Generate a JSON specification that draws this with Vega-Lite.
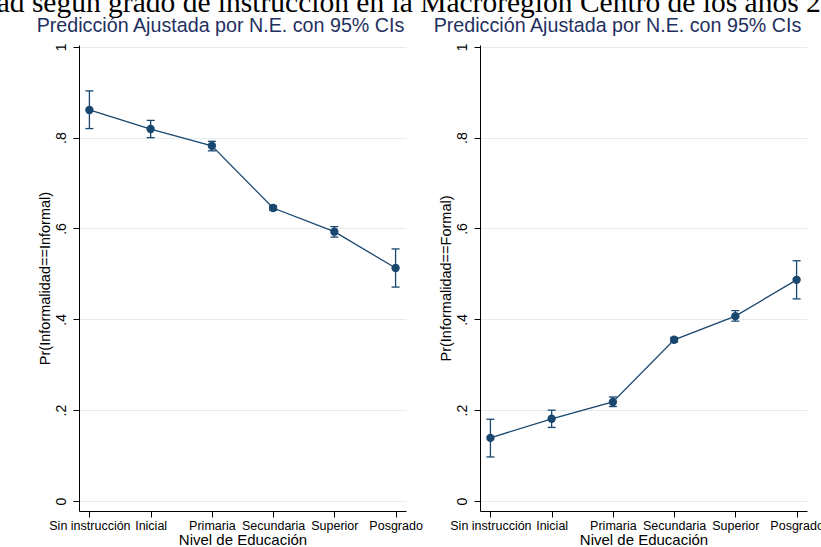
{
  "$schema": "https://vega.github.io/schema/vega-lite/v6.json",
  "background": "white",
  "padding": {"left": -4, "top": -13, "right": 0, "bottom": 0},
  "title": {
    "text": "ad según grado de instrucción en la Macroregión Centro de los años 2",
    "font": "Liberation Serif",
    "fontSize": 29.5,
    "fontWeight": "normal",
    "color": "black",
    "anchor": "middle",
    "dx": -21,
    "offset": -2
  },
  "datasets": {
    "informal": [
      {"nivel": "Sin instrucción", "p": 0.861, "lo": 0.820, "hi": 0.903},
      {"nivel": "Inicial", "p": 0.819, "lo": 0.800, "hi": 0.838},
      {"nivel": "Primaria", "p": 0.782, "lo": 0.771, "hi": 0.792},
      {"nivel": "Secundaria", "p": 0.645, "lo": 0.640, "hi": 0.650},
      {"nivel": "Superior", "p": 0.593, "lo": 0.581, "hi": 0.604},
      {"nivel": "Posgrado", "p": 0.513, "lo": 0.471, "hi": 0.555}
    ],
    "formal": [
      {"nivel": "Sin instrucción", "p": 0.139, "lo": 0.097, "hi": 0.180},
      {"nivel": "Inicial", "p": 0.181, "lo": 0.162, "hi": 0.200},
      {"nivel": "Primaria", "p": 0.218, "lo": 0.208, "hi": 0.229},
      {"nivel": "Secundaria", "p": 0.355, "lo": 0.350, "hi": 0.360},
      {"nivel": "Superior", "p": 0.407, "lo": 0.396, "hi": 0.419},
      {"nivel": "Posgrado", "p": 0.487, "lo": 0.445, "hi": 0.529}
    ]
  },
  "config": {
    "view": {"stroke": null},
    "font": "Liberation Sans",
    "title": {"font": "Liberation Sans", "fontSize": 19.7, "fontWeight": "normal", "color": "#1f3061", "offset": 7},
    "axis": {
      "domainColor": "black",
      "domainWidth": 1,
      "tickColor": "black",
      "tickWidth": 1,
      "tickSize": 6,
      "labelColor": "black",
      "labelFont": "Liberation Sans",
      "titleFont": "Liberation Sans",
      "titleColor": "black",
      "titleFontWeight": "normal"
    },
    "axisX": {"grid": false, "labelAngle": 0, "labelFontSize": 12.5, "labelPadding": 2, "titleFontSize": 15, "titlePadding": 1},
    "axisY": {"grid": true, "gridColor": "#e3ecef", "gridWidth": 1, "labelFontSize": 14, "labelAngle": -90, "labelPadding": 5, "titleFontSize": 14.5, "titlePadding": 2}
  },
  "bounds": "flush",
  "spacing": 74,
  "hconcat": [
    {
      "width": 327,
      "height": 466,
      "title": {"text": "Predicción Ajustada por N.E. con 95% CIs", "dx": -22},
      "data": {"name": "informal"},
      "encoding": {
        "x": {
          "field": "nivel", "type": "ordinal",
          "scale": {"type": "point", "padding": 0.17, "domain": ["Sin instrucción", "Inicial", "Primaria", "Secundaria", "Superior", "Posgrado"]},
          "axis": {"title": "Nivel de Educación"}
        }
      },
      "layer": [
        {
          "mark": {"type": "line", "color": "#1a476f", "strokeWidth": 1.3},
          "encoding": {
            "y": {
              "field": "p", "type": "quantitative",
              "scale": {"domain": [-0.022, 1.004], "nice": false, "zero": false},
              "axis": {"title": "Pr(Informalidad==Informal)", "values": [0, 0.2, 0.4, 0.6, 0.8, 1], "labelExpr": "datum.value == 0 ? '0' : datum.value == 1 ? '1' : replace(format(datum.value, '.1f'), '0.', '.')"}
            }
          }
        },
        {
          "mark": {"type": "rule", "color": "#1a476f", "strokeWidth": 1.3},
          "encoding": {"y": {"field": "lo", "type": "quantitative"}, "y2": {"field": "hi"}}
        },
        {
          "mark": {"type": "tick", "orient": "horizontal", "color": "#1a476f", "size": 8, "thickness": 1.3, "opacity": 1},
          "encoding": {"y": {"field": "lo", "type": "quantitative"}}
        },
        {
          "mark": {"type": "tick", "orient": "horizontal", "color": "#1a476f", "size": 8, "thickness": 1.3, "opacity": 1},
          "encoding": {"y": {"field": "hi", "type": "quantitative"}}
        },
        {
          "mark": {"type": "point", "filled": true, "size": 70, "opacity": 1, "color": "#1a476f"},
          "encoding": {"y": {"field": "p", "type": "quantitative"}}
        }
      ]
    },
    {
      "width": 327,
      "height": 466,
      "title": {"text": "Predicción Ajustada por N.E. con 95% CIs", "dx": -26},
      "data": {"name": "formal"},
      "encoding": {
        "x": {
          "field": "nivel", "type": "ordinal",
          "scale": {"type": "point", "padding": 0.17, "domain": ["Sin instrucción", "Inicial", "Primaria", "Secundaria", "Superior", "Posgrado"]},
          "axis": {"title": "Nivel de Educación"}
        }
      },
      "layer": [
        {
          "mark": {"type": "line", "color": "#1a476f", "strokeWidth": 1.3},
          "encoding": {
            "y": {
              "field": "p", "type": "quantitative",
              "scale": {"domain": [-0.022, 1.004], "nice": false, "zero": false},
              "axis": {"title": "Pr(Informalidad==Formal)", "values": [0, 0.2, 0.4, 0.6, 0.8, 1], "labelExpr": "datum.value == 0 ? '0' : datum.value == 1 ? '1' : replace(format(datum.value, '.1f'), '0.', '.')"}
            }
          }
        },
        {
          "mark": {"type": "rule", "color": "#1a476f", "strokeWidth": 1.3},
          "encoding": {"y": {"field": "lo", "type": "quantitative"}, "y2": {"field": "hi"}}
        },
        {
          "mark": {"type": "tick", "orient": "horizontal", "color": "#1a476f", "size": 8, "thickness": 1.3, "opacity": 1},
          "encoding": {"y": {"field": "lo", "type": "quantitative"}}
        },
        {
          "mark": {"type": "tick", "orient": "horizontal", "color": "#1a476f", "size": 8, "thickness": 1.3, "opacity": 1},
          "encoding": {"y": {"field": "hi", "type": "quantitative"}}
        },
        {
          "mark": {"type": "point", "filled": true, "size": 70, "opacity": 1, "color": "#1a476f"},
          "encoding": {"y": {"field": "p", "type": "quantitative"}}
        }
      ]
    }
  ]
}
